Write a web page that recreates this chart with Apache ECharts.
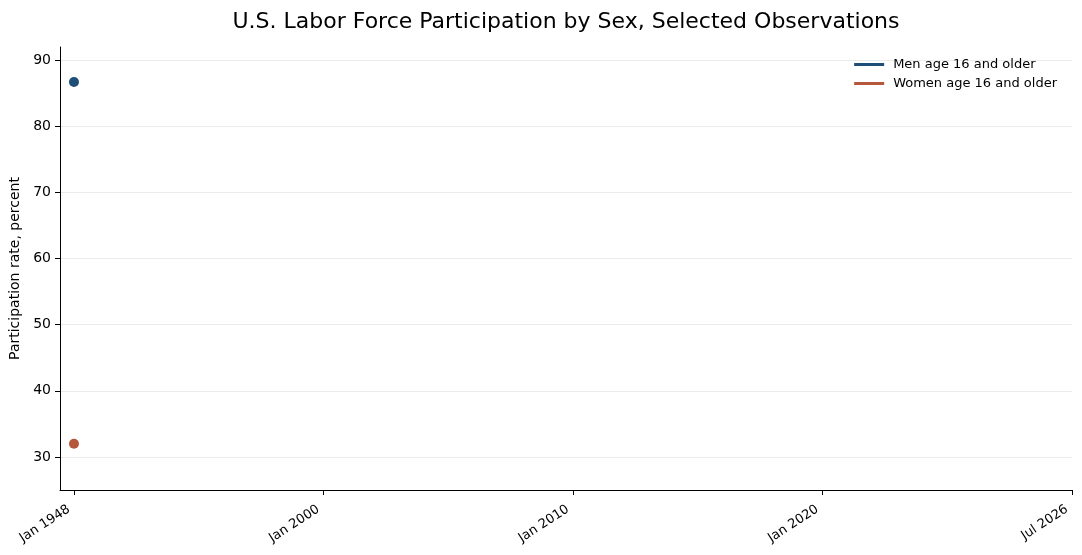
<!DOCTYPE html>
<html>
<head>
<meta charset="utf-8">
<script src="https://cdn.jsdelivr.net/npm/echarts@6/dist/echarts.min.js"></script>
<style>
html,body{margin:0;padding:0;background:#fff;}
#chart{width:1082px;height:555px;}
</style>
</head>
<body>
<div id="chart"></div>
<script>
const categories = ['Jan 1948', 'Jan 2000', 'Jan 2010', 'Jan 2020', 'Jul 2026'];
const menValues = [86.7, null, null, null, null];
const womenValues = [32.0, null, null, null, null];
const yTicks = [30, 40, 50, 60, 70, 80, 90];
const seriesNames = ['Men age 16 and older', 'Women age 16 and older'];
const seriesColors = ['#1f4e79', '#b5573a'];

const toPairs = vals => vals.map((v, i) => [i, v]);
const font = 'DejaVu Sans';

const chart = echarts.init(document.getElementById('chart'), null, {renderer: 'canvas'});
chart.setOption({
  animation: false,
  backgroundColor: '#ffffff',
  title: {
    text: 'U.S. Labor Force Participation by Sex, Selected Observations',
    left: 561, top: 6, textAlign: 'center',
    textStyle: {fontFamily: font, fontSize: 22, fontWeight: 'normal', color: '#000'}
  },
  legend: {
    orient: 'vertical', right: 20, top: 52,
    itemWidth: 30, itemHeight: 3, itemGap: 4,
    textStyle: {fontFamily: font, fontSize: 13, color: '#000', lineHeight: 15, padding: [0, 0, 0, 4]},
    data: seriesNames.map(n => ({name: n, icon: 'rect'}))
  },
  grid: {left: 60, right: 10, top: 47, bottom: 65, containLabel: false, outerBoundsMode: 'none'},
  xAxis: {
    type: 'value', min: -0.056, max: 4,
    axisLine: {show: true, onZero: false, lineStyle: {color: '#000', width: 1}},
    axisTick: {show: true, length: 5, lineStyle: {color: '#000'}, customValues: categories.map((c, i) => i)},
    axisLabel: {
      customValues: categories.map((c, i) => i),
      formatter: v => categories[Math.round(v)] || '',
      rotate: 33, fontFamily: font, fontSize: 13, color: '#000', margin: 15,
      padding: [0, 6, 0, 0]
    },
    splitLine: {show: false}
  },
  yAxis: {
    type: 'value', min: 25, max: 92,
    name: 'Participation rate, percent', nameLocation: 'middle', nameGap: 35,
    nameTextStyle: {fontFamily: font, fontSize: 14, color: '#000'},
    axisLine: {show: true, onZero: false, lineStyle: {color: '#000', width: 1}},
    axisTick: {show: true, length: 5, lineStyle: {color: '#000'}, customValues: yTicks},
    axisLabel: {customValues: yTicks, fontFamily: font, fontSize: 14, color: '#000', margin: 9},
    splitLine: {show: true, lineStyle: {color: '#ebebeb', width: 1}}
  },
  series: [
    {name: seriesNames[0], type: 'line', data: toPairs(menValues), color: seriesColors[0],
     showSymbol: true, symbol: 'circle', symbolSize: 10, lineStyle: {width: 3}, itemStyle: {color: seriesColors[0]}},
    {name: seriesNames[1], type: 'line', data: toPairs(womenValues), color: seriesColors[1],
     showSymbol: true, symbol: 'circle', symbolSize: 10, lineStyle: {width: 3}, itemStyle: {color: seriesColors[1]}}
  ]
});
</script>
</body>
</html>
